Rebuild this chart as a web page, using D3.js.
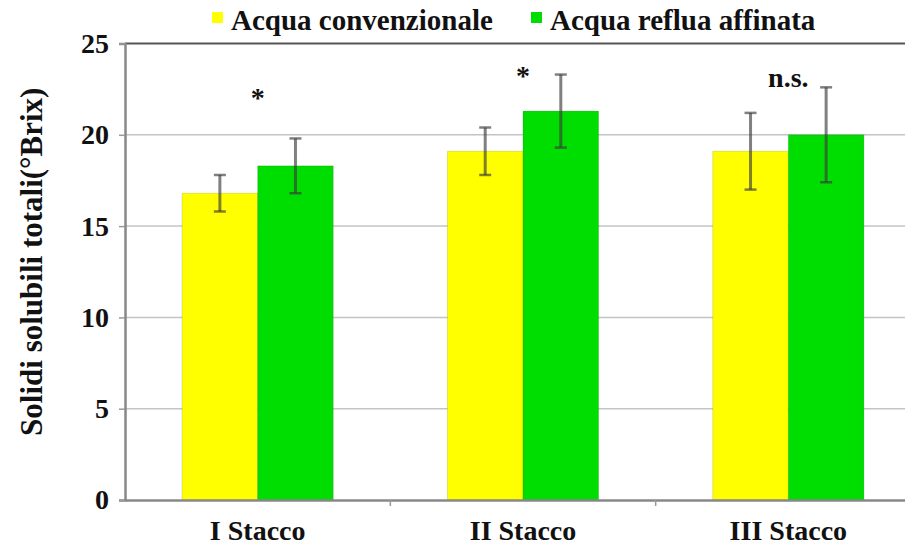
<!DOCTYPE html>
<html><head><meta charset="utf-8">
<script src="https://cdn.jsdelivr.net/npm/d3@7"></script>
<style>body{margin:0;background:#fff;} svg{display:block;}</style>
</head><body>
<svg id="c" width="905" height="546"></svg>
<script>
const categories = ["I Stacco", "II Stacco", "III Stacco"];
const seriesNames = ["Acqua convenzionale", "Acqua reflua affinata"];
const convenzionale = [16.8, 19.1, 19.1];
const convenzionaleErr = [1.0, 1.3, 2.1];
const reflua = [18.3, 21.3, 20.0];
const refluaErr = [1.5, 2.0, 2.6];
const significance = ["*", "*", "n.s."];
const significanceY = [21.5, 22.7, 22.6];
const yTicks = [0, 5, 10, 15, 20, 25];
const colors = ["#ffff00", "#00dd00"];

const svg = d3.select("#c");
const font = "'Liberation Serif', 'Times New Roman', serif";
const pLeft = 125, pRight = 921, pTop = 43.5, pBottom = 500;

const x0 = d3.scaleBand().domain(categories).range([pLeft, pRight]).padding(0);
const x1 = d3.scaleBand().domain(seriesNames).range([0, x0.bandwidth()]).paddingInner(0).paddingOuter(0.755);
const y = d3.scaleLinear().domain([0, 25]).range([pBottom, pTop]);

// gridlines
svg.append("g").selectAll("line").data(yTicks.filter(t => t > 0 && t < 25)).join("line")
  .attr("x1", pLeft).attr("x2", pRight).attr("y1", d => y(d)).attr("y2", d => y(d))
  .attr("stroke", "#c4c4c4").attr("stroke-width", 1.5);
// top border
svg.append("line").attr("x1", pLeft).attr("x2", pRight).attr("y1", y(25)).attr("y2", y(25))
  .attr("stroke", "#555").attr("stroke-width", 2);

const data = categories.map((c, i) => ({
  cat: c,
  vals: [
    {s: seriesNames[0], v: convenzionale[i], e: convenzionaleErr[i], col: colors[0]},
    {s: seriesNames[1], v: reflua[i], e: refluaErr[i], col: colors[1]}
  ],
  sig: significance[i],
  sigY: significanceY[i]
}));

const g = svg.append("g").selectAll("g").data(data).join("g")
  .attr("transform", d => `translate(${x0(d.cat)},0)`);
g.selectAll("rect").data(d => d.vals).join("rect")
  .attr("x", d => x1(d.s)).attr("width", x1.bandwidth())
  .attr("y", d => y(d.v)).attr("height", d => y(0) - y(d.v))
  .attr("fill", d => d.col)
  .attr("stroke", "rgba(0,0,0,0.12)").attr("stroke-width", 1);

// error bars
const eb = g.selectAll("g.eb").data(d => d.vals).join("g").attr("class", "eb")
  .attr("transform", d => `translate(${x1(d.s) + x1.bandwidth() / 2},0)`);
const ebColor = "rgba(60,60,60,0.65)";
eb.append("line").attr("x1", 0).attr("x2", 0).attr("y1", d => y(d.v + d.e)).attr("y2", d => y(d.v - d.e))
  .attr("stroke", ebColor).attr("stroke-width", 3);
eb.append("line").attr("x1", -6).attr("x2", 6).attr("y1", d => y(d.v + d.e)).attr("y2", d => y(d.v + d.e))
  .attr("stroke", ebColor).attr("stroke-width", 2.5);
eb.append("line").attr("x1", -6).attr("x2", 6).attr("y1", d => y(d.v - d.e)).attr("y2", d => y(d.v - d.e))
  .attr("stroke", ebColor).attr("stroke-width", 2.5);

// significance labels
g.append("text")
  .attr("x", x0.bandwidth() / 2)
  .attr("y", d => y(d.sigY))
  .attr("text-anchor", "middle")
  .attr("font-family", font).attr("font-weight", "bold")
  .attr("font-size", 28)
  .attr("fill", "#111")
  .text(d => d.sig);

// y axis
const yAxis = svg.append("g").attr("transform", `translate(${pLeft},0)`)
  .call(d3.axisLeft(y).tickValues(yTicks).tickSize(6).tickPadding(10));
yAxis.select(".domain").attr("stroke", "#888").attr("stroke-width", 2.5);
yAxis.selectAll(".tick line").attr("stroke", "#999").attr("stroke-width", 1.5);
yAxis.selectAll(".tick text").attr("font-family", font).attr("font-weight", "bold")
  .attr("font-size", 28).attr("fill", "#111");

// x axis
const xAxis = svg.append("g").attr("transform", `translate(0,${pBottom})`)
  .call(d3.axisBottom(x0).tickSize(0).tickPadding(20));
xAxis.select(".domain").attr("stroke", "#888").attr("stroke-width", 2.5);
xAxis.selectAll(".tick text").attr("font-family", font).attr("font-weight", "bold")
  .attr("font-size", 28).attr("fill", "#111");
// category boundary tick marks
svg.append("g").selectAll("line").data(categories.slice(1)).join("line")
  .attr("x1", d => x0(d)).attr("x2", d => x0(d))
  .attr("y1", pBottom).attr("y2", pBottom + 6)
  .attr("stroke", "#999").attr("stroke-width", 1.5);

// y title
svg.append("text")
  .attr("transform", `translate(42,${(pTop + pBottom) / 2 - 10}) rotate(-90)`)
  .attr("text-anchor", "middle")
  .attr("font-family", font).attr("font-weight", "bold").attr("font-size", 31)
  .attr("fill", "#111")
  .text("Solidi solubili totali(°Brix)");

// legend
const legX = [212, 531];
const leg = svg.append("g").selectAll("g").data(seriesNames).join("g")
  .attr("transform", (d, i) => `translate(${legX[i]},0)`);
leg.append("rect").attr("x", 0).attr("y", 12).attr("width", 11).attr("height", 11)
  .attr("fill", (d, i) => colors[i]);
leg.append("text").attr("x", 19).attr("y", 30)
  .attr("font-family", font).attr("font-weight", "bold").attr("font-size", 29)
  .attr("fill", "#111").text(d => d);
</script>
</body></html>
